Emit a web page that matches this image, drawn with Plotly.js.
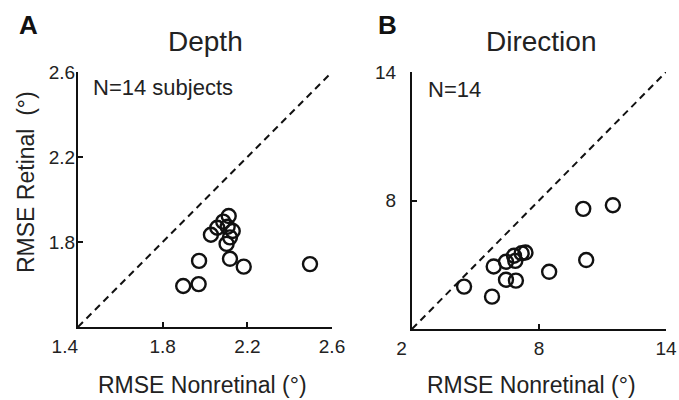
<!DOCTYPE html>
<html>
<head>
<meta charset="utf-8">
<script src="https://cdn.plot.ly/plotly-3.0.1.min.js"></script>
<style>html,body{margin:0;padding:0;background:#fff;}#chart{width:679px;height:400px;}</style>
</head>
<body>
<div id="chart"></div>
<script>
// Panel A: Depth (RMSE, degrees)
const depthNonretinal = [1.897, 1.970, 1.972, 2.028, 2.058, 2.086, 2.112, 2.131, 2.118, 2.102, 2.118, 2.183, 2.496, 2.107];
const depthRetinal    = [1.593, 1.602, 1.711, 1.834, 1.867, 1.896, 1.922, 1.852, 1.822, 1.791, 1.721, 1.684, 1.696, 1.872];
// Panel B: Direction (RMSE, degrees)
const dirNonretinal = [4.46, 5.78, 5.86, 6.44, 6.91, 6.44, 6.88, 6.82, 7.18, 7.36, 8.48, 10.09, 11.49, 10.23];
const dirRetinal    = [3.98, 3.51, 4.92, 4.30, 4.26, 5.14, 5.18, 5.42, 5.54, 5.57, 4.67, 7.61, 7.78, 5.22];
// Unity lines and ticks
const depthUnity = [1.4, 2.6];
const dirUnity = [2, 14];
const depthTicks = [1.4, 1.8, 2.2, 2.6];
const depthTickText = ['1.4\u00a0\u00a0\u00a0\u00a0\u00a0', '1.8', '2.2', '2.6'];
const dirTicks = [2, 8, 14];
const dirTickText = ['2\u00a0\u00a0\u00a0\u00a0', '8', '14'];

const FONT = 'Liberation Sans, Arial, Helvetica, sans-serif';
const marker = {symbol: 'circle-open', size: 14, color: '#111', line: {width: 2.4, color: '#111'}};
const dash = {color: '#111', width: 2, dash: '7px,5px'};

const traces = [
  {x: depthUnity, y: depthUnity, xaxis: 'x', yaxis: 'y', mode: 'lines', line: dash, hoverinfo: 'skip'},
  {x: depthNonretinal, y: depthRetinal, xaxis: 'x', yaxis: 'y', mode: 'markers', marker: marker},
  {x: dirUnity, y: dirUnity, xaxis: 'x2', yaxis: 'y2', mode: 'lines', line: dash, hoverinfo: 'skip'},
  {x: dirNonretinal, y: dirRetinal, xaxis: 'x2', yaxis: 'y2', mode: 'markers', marker: marker}
];

const axBase = {
  showgrid: false, zeroline: false, showline: true, linecolor: '#111', linewidth: 2,
  ticks: 'inside', ticklen: 5, tickwidth: 2, tickcolor: '#111',
  tickfont: {family: FONT, size: 19, color: '#222'}, fixedrange: true
};

const layout = {
  width: 679, height: 400,
  margin: {l: 0, r: 0, t: 0, b: 0},
  paper_bgcolor: '#fff', plot_bgcolor: '#fff',
  showlegend: false,
  font: {family: FONT, color: '#222'},
  xaxis: Object.assign({}, axBase, {domain: [78/679, 332/679], range: [1.4, 2.6], tickvals: depthTicks, ticktext: depthTickText, anchor: 'y', ticklabelstandoff: 1}),
  yaxis: Object.assign({}, axBase, {domain: [1 - 327/400, 1 - 72/400], range: [1.4, 2.6], tickvals: depthTicks.slice(1), ticktext: ['1.8', '2.2', '2.6'], anchor: 'x', ticklabelstandoff: -3}),
  xaxis2: Object.assign({}, axBase, {domain: [412/679, 666/679], range: [2, 14], tickvals: dirTicks, ticktext: dirTickText, anchor: 'y2', ticklabelstandoff: 1}),
  yaxis2: Object.assign({}, axBase, {domain: [1 - 329/400, 1 - 72/400], range: [2, 14], tickvals: dirTicks.slice(1), ticktext: ['8', '14'], anchor: 'x2', ticklabelstandoff: 10}),
  annotations: [
    {text: '<b>A</b>', xref: 'paper', yref: 'paper', x: 28/679, y: 1 - 25/400, xanchor: 'center', yanchor: 'middle', showarrow: false, font: {family: FONT, size: 26, color: '#111'}},
    {text: '<b>B</b>', xref: 'paper', yref: 'paper', x: 387/679, y: 1 - 25/400, xanchor: 'center', yanchor: 'middle', showarrow: false, font: {family: FONT, size: 26, color: '#111'}},
    {text: 'Depth', xref: 'paper', yref: 'paper', x: 206/679, y: 1 - 41/400, xanchor: 'center', yanchor: 'middle', showarrow: false, font: {family: FONT, size: 28, color: '#222'}},
    {text: 'Direction', xref: 'paper', yref: 'paper', x: 541/679, y: 1 - 41/400, xanchor: 'center', yanchor: 'middle', showarrow: false, font: {family: FONT, size: 28, color: '#222'}},
    {text: 'N=14 subjects', xref: 'paper', yref: 'paper', x: 91/679, y: 1 - 87/400, xanchor: 'left', yanchor: 'middle', showarrow: false, font: {family: FONT, size: 22, color: '#222'}},
    {text: 'N=14', xref: 'paper', yref: 'paper', x: 426/679, y: 1 - 90/400, xanchor: 'left', yanchor: 'middle', showarrow: false, font: {family: FONT, size: 22, color: '#222'}},
    {text: 'RMSE Retinal\u00a0\u00a0(°)', xref: 'paper', yref: 'paper', x: 26/679, y: 1 - 182/400, xanchor: 'center', yanchor: 'middle', textangle: -90, showarrow: false, font: {family: FONT, size: 23, color: '#222'}},
    {text: 'RMSE Nonretinal (°)', xref: 'paper', yref: 'paper', x: 202/679, y: 1 - 385/400, xanchor: 'center', yanchor: 'middle', showarrow: false, font: {family: FONT, size: 23, color: '#222'}},
    {text: 'RMSE Nonretinal (°)', xref: 'paper', yref: 'paper', x: 531/679, y: 1 - 385/400, xanchor: 'center', yanchor: 'middle', showarrow: false, font: {family: FONT, size: 23, color: '#222'}}
  ]
};

Plotly.newPlot('chart', traces, layout, {displayModeBar: false, staticPlot: true});
</script>
</body>
</html>
